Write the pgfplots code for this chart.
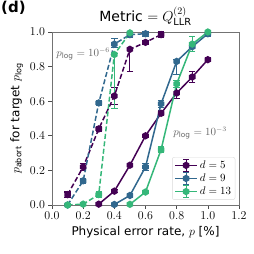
\documentclass[border=0pt]{standalone}
\usepackage{pgfplots}
\pgfplotsset{compat=1.18}
\usepackage{fontspec}
\setmainfont{DejaVu Sans}
\definecolor{cA}{HTML}{440154}
\definecolor{cB}{HTML}{31688E}
\definecolor{cC}{HTML}{35B779}
\pgfdeclareplotmark{hex*}{%
  \pgfpathmoveto{\pgfpointpolar{90}{\pgfplotmarksize}}%
  \pgfpathlineto{\pgfpointpolar{150}{\pgfplotmarksize}}%
  \pgfpathlineto{\pgfpointpolar{210}{\pgfplotmarksize}}%
  \pgfpathlineto{\pgfpointpolar{270}{\pgfplotmarksize}}%
  \pgfpathlineto{\pgfpointpolar{330}{\pgfplotmarksize}}%
  \pgfpathlineto{\pgfpointpolar{30}{\pgfplotmarksize}}%
  \pgfpathclose
  \pgfusepathqfillstroke}
\begin{document}
\begin{tikzpicture}
\begin{axis}[
  scale only axis, width=187pt, height=173pt,
  xmin=0, xmax=1.2, ymin=0, ymax=1,
  xtick={0,0.2,0.4,0.6,0.8,1.0,1.2}, ytick={0,0.2,0.4,0.6,0.8,1.0},
  xticklabel style={/pgf/number format/.cd,fixed,fixed zerofill,precision=1},
  yticklabel style={/pgf/number format/.cd,fixed,fixed zerofill,precision=1},
  tick label style={font=\fontsize{12}{13}\selectfont},
  tick align=outside, tick pos=left, major tick length=3.5pt,
  axis line style={black!55},
  every tick/.style={black!70, line width=0.6pt},
  title={Metric $=Q^{(2)}_{\mathrm{LLR}}$},
  title style={font=\fontsize{14}{16}\selectfont, yshift=-3pt},
  xlabel={Physical error rate, $p$ [\%]},
  ylabel={$p_{\mathrm{abort}}$ for target $p_{\log}$},
  label style={font=\fontsize{12}{14}\selectfont},
  every axis plot/.append style={line width=1.5pt, mark size=2.9pt, mark options={solid}},
  error bars/error bar style={line width=1.1pt, solid},
  error bars/error mark options={rotate=90, mark size=3.2pt, line width=1.1pt, solid},
  legend cell align=left,
  legend style={at={(rel axis cs:0.98,0.03)}, anchor=south east, draw=black!15,
    rounded corners=2pt, fill=white, font=\fontsize{11}{13}\selectfont,
    row sep=0pt, inner xsep=2pt, inner ysep=1.5pt},
  legend image code/.code={
    \draw[mark repeat=2,mark phase=2,#1] plot coordinates {(0pt,0pt) (11pt,0pt) (22pt,0pt)};
    \draw[#1, mark=none, solid, line width=1.1pt] (11pt,-6pt) -- (11pt,6pt) (8pt,6pt) -- (14pt,6pt) (8pt,-6pt) -- (14pt,-6pt);
  },
]
% dashed: p_log = 1e-6
\addplot[cA, dash pattern=on 5pt off 2.5pt, mark=hex*, forget plot, error bars/.cd, y dir=both, y explicit] coordinates {
  (0.1,0.06) +- (0,0.015)
  (0.2,0.22) +- (0,0.02)
  (0.3,0.44) +- (0,0.015)
  (0.4,0.63) +- (0,0.05)
  (0.5,0.90) += (0,0.005) -= (0,0.13)
  (0.6,0.94) +- (0,0.01)
  (0.7,0.985) +- (0,0.015)
};
\addplot[cB, dash pattern=on 5pt off 2.5pt, mark=hex*, forget plot, error bars/.cd, y dir=both, y explicit] coordinates {
  (0.1,0.0) +- (0,0.005)
  (0.2,0.14) +- (0,0.015)
  (0.3,0.59) +- (0,0.015)
  (0.4,0.93) += (0,0.03) -= (0,0.02)
  (0.5,0.985) +- (0,0.015)
  (0.6,0.99) +- (0,0.015)
};
\addplot[cC, dash pattern=on 5pt off 2.5pt, mark=hex*, forget plot, error bars/.cd, y dir=both, y explicit] coordinates {
  (0.1,0.0) +- (0,0.003)
  (0.2,0.005) +- (0,0.005)
  (0.3,0.06) +- (0,0.015)
  (0.4,0.87) += (0,0.005) -= (0,0.31)
  (0.5,0.995) +- (0,0.005)
};
% solid: p_log = 1e-3
\addplot[cA, solid, mark=hex*, error bars/.cd, y dir=both, y explicit] coordinates {
  (0.3,0.005) +- (0,0.005)
  (0.4,0.08) +- (0,0.01)
  (0.5,0.23) +- (0,0.01)
  (0.6,0.40) +- (0,0.01)
  (0.7,0.53) +- (0,0.015)
  (0.8,0.647) +- (0,0.03)
  (0.9,0.74) +- (0,0.03)
  (1.0,0.84) +- (0,0.01)
};
\addlegendentry{$d=5$}
\addplot[cB, solid, mark=hex*, error bars/.cd, y dir=both, y explicit] coordinates {
  (0.4,0.003) +- (0,0.003)
  (0.5,0.055) +- (0,0.01)
  (0.6,0.22) +- (0,0.02)
  (0.7,0.585) +- (0,0.02)
  (0.8,0.83) += (0,0.01) -= (0,0.075)
  (0.9,0.915) +- (0,0.01)
  (1.0,0.99) +- (0,0.015)
};
\addlegendentry{$d=9$}
\addplot[cC, solid, mark=hex*, error bars/.cd, y dir=both, y explicit] coordinates {
  (0.5,0.004) +- (0,0.004)
  (0.6,0.075) +- (0,0.01)
  (0.7,0.32) +- (0,0.015)
  (0.8,0.70) +- (0,0.02)
  (0.9,0.93) +- (0,0.045)
  (1.0,1.0) +- (0,0.005)
};
\addlegendentry{$d=13$}
\node[text=black!60, anchor=west, font=\fontsize{10.5}{11}\selectfont] at (axis cs:0.005,0.873) {$p_{\log}=10^{-6}$};
\node[text=black!60, font=\fontsize{10.5}{11}\selectfont] at (axis cs:0.95,0.416) {$p_{\log}=10^{-3}$};
\end{axis}
\node[anchor=north west, inner sep=0pt, font=\bfseries\fontsize{15}{17}\selectfont] at (-51pt,204pt) {(d)};
\pgfresetboundingbox
\useasboundingbox (-52pt,-49pt) rectangle (202pt,205pt);
\end{tikzpicture}
\end{document}
